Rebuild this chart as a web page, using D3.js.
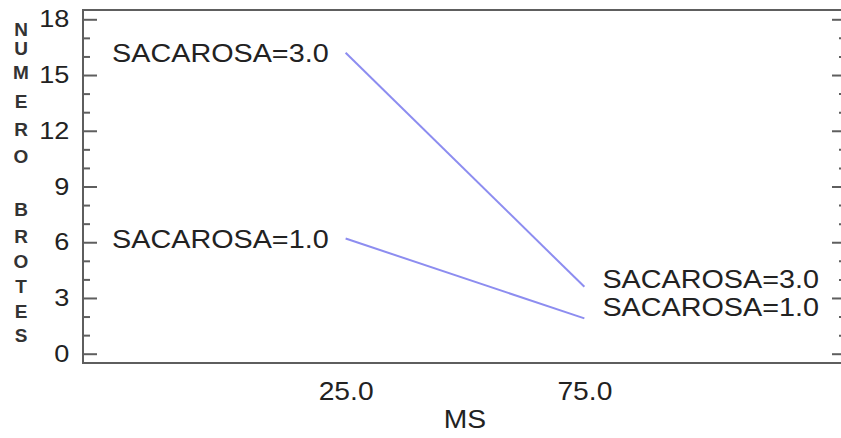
<!DOCTYPE html>
<html>
<head>
<meta charset="utf-8">
<script src="https://cdn.jsdelivr.net/npm/d3@7"></script>
<style>
  body { margin: 0; background: #fff; }
  svg { display: block; font-family: "Liberation Sans", Arial, sans-serif; }
</style>
</head>
<body>
<svg id="viz"></svg>
<script>
// data
const msLevels = [25, 75];
const seriesNames = ["SACAROSA=3.0", "SACAROSA=1.0"];
const sac30 = [16.2, 3.6];
const sac10 = [6.2, 1.9];
const yTicks = [0, 3, 6, 9, 12, 15, 18];
const yLabelLetters = ["N", "U", "M", "E", "R", "O", "", "B", "R", "O", "T", "E", "S"];

const width = 841, height = 438;
const margin = { top: 10, right: -6, bottom: 75, left: 83 };
const sx = 1.13; // the picture is a bit stretched sideways

const svg = d3.select("#viz")
    .attr("width", width)
    .attr("height", height)
    .attr("viewBox", [0, 0, width, height]);

const x = d3.scaleLinear()
    .domain([-30, 130])
    .range([margin.left, width - margin.right]);

const y = d3.scaleLinear()
    .domain([-0.5, 18.5])
    .range([height - margin.bottom, margin.top]);

const frameColor = "#5e5e5e";
const textColor = "#222";

// frame
svg.append("rect")
    .attr("x", x.range()[0])
    .attr("y", y.range()[1])
    .attr("width", x.range()[1] - x.range()[0])
    .attr("height", y.range()[0] - y.range()[1])
    .attr("fill", "none")
    .attr("stroke", frameColor)
    .attr("stroke-width", 2);

// left axis, ticks pointing in
const yAxis = svg.append("g")
    .attr("transform", `translate(${margin.left},0)`)
    .call(d3.axisLeft(y).tickValues(yTicks).tickSizeInner(-14).tickSizeOuter(0).tickPadding(12))
    .call(g => g.select(".domain").remove());
yAxis.selectAll("line").attr("stroke", frameColor).attr("stroke-width", 2);
yAxis.selectAll("text")
    .attr("fill", textColor)
    .style("font-size", "24px")
    .attr("transform", `scale(${sx},1)`);

// minor ticks left
svg.append("g")
    .attr("transform", `translate(${margin.left},0)`)
    .call(d3.axisLeft(y).tickValues(d3.range(0, 19).filter(v => v % 3 !== 0)).tickSizeInner(-7).tickSizeOuter(0).tickFormat(""))
    .call(g => g.select(".domain").remove())
    .selectAll("line").attr("stroke", frameColor).attr("stroke-width", 2);

// right side ticks
const xr = x.range()[1];
svg.append("g")
    .attr("transform", `translate(${xr},0)`)
    .call(d3.axisRight(y).tickValues(yTicks).tickSizeInner(-15).tickSizeOuter(0).tickFormat(""))
    .call(g => g.select(".domain").remove())
    .selectAll("line").attr("stroke", frameColor).attr("stroke-width", 2);
svg.append("g")
    .attr("transform", `translate(${xr},0)`)
    .call(d3.axisRight(y).tickValues(d3.range(0, 19).filter(v => v % 3 !== 0)).tickSizeInner(-8).tickSizeOuter(0).tickFormat(""))
    .call(g => g.select(".domain").remove())
    .selectAll("line").attr("stroke", frameColor).attr("stroke-width", 2);

// bottom axis labels
const xAxis = svg.append("g")
    .attr("transform", `translate(0,${height - margin.bottom})`)
    .call(d3.axisBottom(x).tickValues(msLevels).tickSize(0).tickPadding(19).tickFormat(d3.format(".1f")))
    .call(g => g.select(".domain").remove());
xAxis.selectAll("text")
    .attr("fill", textColor)
    .style("font-size", "25px")
    .attr("transform", `scale(${sx},1)`);

// x title
svg.append("g")
    .attr("transform", `translate(${(x(25) + x(75)) / 2},428) scale(${sx},1)`)
    .append("text")
    .attr("text-anchor", "middle")
    .attr("fill", textColor)
    .style("font-size", "25px")
    .text("MS");

// y title, letters stacked
const letterY = [29, 48, 72, 101, 129, 156, 0, 209, 236, 261, 286, 311, 335];
svg.append("g")
    .selectAll("text")
    .data(yLabelLetters)
    .join("text")
    .attr("x", 21)
    .attr("y", (d, i) => letterY[i])
    .attr("dy", "0.35em")
    .attr("text-anchor", "middle")
    .attr("fill", "#333")
    .style("font-size", "19px")
    .style("font-weight", "bold")
    .text(d => d);

// lines
const series = [
    { name: seriesNames[0], values: sac30, dyRight: -8 },
    { name: seriesNames[1], values: sac10, dyRight: -11 }
];
const line = d3.line()
    .x((d, i) => x(msLevels[i]))
    .y(d => y(d));

svg.append("g")
    .selectAll("path")
    .data(series)
    .join("path")
    .attr("d", d => line(d.values))
    .attr("fill", "none")
    .attr("stroke", "#8d8df0")
    .attr("stroke-width", 2);

// labels at both ends
svg.append("g")
    .selectAll("g")
    .data(series)
    .join("g")
    .attr("transform", d => `translate(${x(msLevels[0]) - 17},${y(d.values[0]) + 1}) scale(1.15,1)`)
    .append("text")
    .attr("text-anchor", "end")
    .attr("dy", "0.35em")
    .attr("fill", textColor)
    .style("font-size", "25px")
    .text(d => d.name);

svg.append("g")
    .selectAll("g")
    .data(series)
    .join("g")
    .attr("transform", d => `translate(${x(msLevels[1]) + 18},${y(d.values[1]) + d.dyRight}) scale(1.15,1)`)
    .append("text")
    .attr("text-anchor", "start")
    .attr("dy", "0.35em")
    .attr("fill", textColor)
    .style("font-size", "25px")
    .text(d => d.name);
</script>
</body>
</html>
